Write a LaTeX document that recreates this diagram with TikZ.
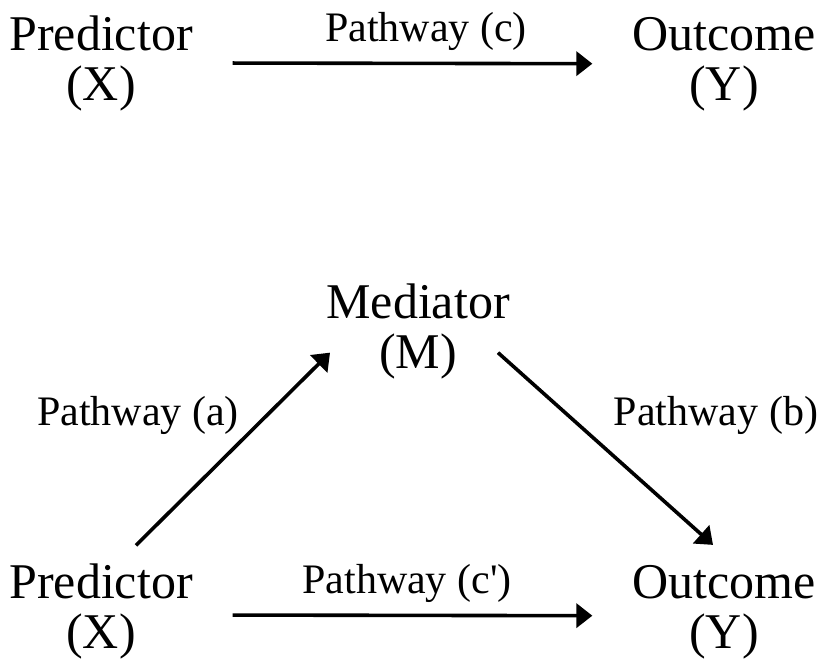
\documentclass[tikz,border=0pt]{standalone}
\usepackage{fontspec}
\setmainfont{Liberation Serif}[Ligatures=TeXOff]
\usetikzlibrary{arrows.meta}
\begin{document}
\begin{tikzpicture}[x=1pt,y=-1pt,
  var/.style={anchor=base,align=center,inner sep=0pt,outer sep=0pt,
    font=\fontsize{50}{50}\selectfont},
  path label/.style={anchor=base,inner sep=0pt,font=\fontsize{42}{42}\selectfont},
  arr/.style={line width=3.6pt,-{Triangle[length=16pt,width=24pt]}}]
  \useasboundingbox (0,0) rectangle (822,669);

  % total effect
  \node[var] (X1) at (101,100) {Predictor\\(X)};
  \node[var] (Y1) at (724,100) {Outcome\\(Y)};
  \draw[arr,shorten <=40pt,shorten >=40pt] (X1.east) -- (Y1.west);
  \node[path label] (lc) at (426,42) {Pathway (c)};

  % mediation model
  \node[var] (M)  at (418,368) {Mediator\\(M)};
  \node[var] (X2) at (101,648) {Predictor\\(X)};
  \node[var] (Y2) at (724,648) {Outcome\\(Y)};
  \draw[arr] ([shift={(35,-18)}]X2.north) -- ([shift={(-88,-26)}]M.south);
  \draw[arr] ([shift={(80,-26)}]M.south) -- ([shift={(-11,-20)}]Y2.north);
  \draw[arr,shorten <=40pt,shorten >=40pt] ([yshift=-4pt]X2.east) -- ([yshift=-4pt]Y2.west);
  \node[path label] (la) at (138,425) {Pathway (a)};
  \node[path label] (lb) at (716,425) {Pathway (b)};
  \node[path label] (lcp) at (407,593) {Pathway (c')};
\end{tikzpicture}
\end{document}
